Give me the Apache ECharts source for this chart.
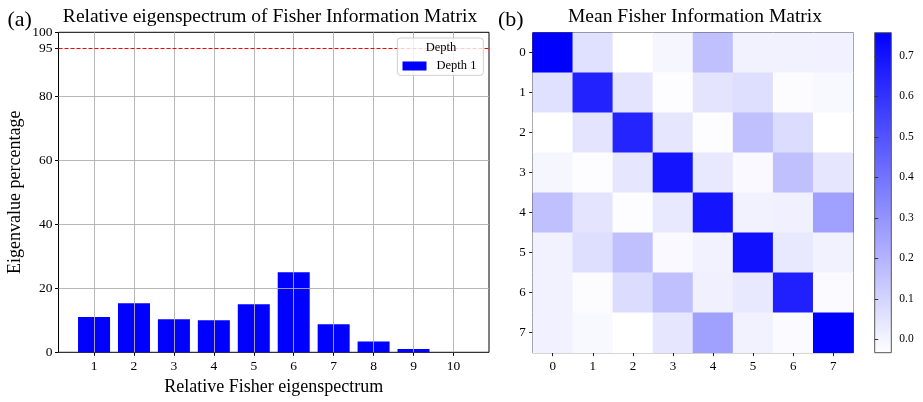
<!DOCTYPE html>
<html>
<head>
<meta charset="utf-8">
<script src="https://cdn.jsdelivr.net/npm/echarts@6/dist/echarts.min.js"></script>
<style>
html,body{margin:0;padding:0;background:#fff;}
#chart{width:923px;height:402px;}
</style>
</head>
<body>
<div id="chart"></div>
<script>
// ---- data ----
const eigenIndex = [1, 2, 3, 4, 5, 6, 7, 8, 9, 10];
const eigenPercent = [11.0, 15.3, 10.3, 10.0, 15.0, 25.0, 8.8, 3.4, 1.0, 0.0];
const yTickValues = [0, 20, 40, 60, 80, 95, 100];
const yGridValues = [20, 40, 60, 80];
const thresholdPercent = 95;
const seriesName = 'Depth 1';
const legendTitle = 'Depth';

const fimLabels = ['0', '1', '2', '3', '4', '5', '6', '7'];
const fimRow0 = [0.757, 0.064, -0.033, -0.005, 0.162, 0.007, 0.007, 0.010];
const fimRow1 = [0.064, 0.652, 0.051, -0.027, 0.051, 0.069, -0.024, -0.011];
const fimRow2 = [-0.033, 0.051, 0.646, 0.044, -0.027, 0.162, 0.075, -0.033];
const fimRow3 = [-0.005, -0.027, 0.044, 0.695, 0.038, -0.014, 0.162, 0.044];
const fimRow4 = [0.162, 0.051, -0.027, 0.038, 0.695, 0.007, 0.013, 0.261];
const fimRow5 = [0.007, 0.069, 0.162, -0.014, 0.007, 0.707, 0.038, 0.007];
const fimRow6 = [0.007, -0.024, 0.075, 0.162, 0.013, 0.038, 0.658, -0.020];
const fimRow7 = [0.010, -0.011, -0.033, 0.044, 0.261, 0.007, -0.020, 0.757];
const fimRows = [fimRow0, fimRow1, fimRow2, fimRow3, fimRow4, fimRow5, fimRow6, fimRow7];
const cbarMin = -0.033;
const cbarMax = 0.757;
const cbarTicks = [0.0, 0.1, 0.2, 0.3, 0.4, 0.5, 0.6, 0.7];

// ---- build ----
const FONT = 'Liberation Serif';
const barData = eigenIndex.map((x, i) => [x, eigenPercent[i]]);
const heatData = [];
fimRows.forEach((row, r) => row.forEach((v, c) => heatData.push([c, r, v])));

const gridLine = { color: '#b0b0b0', width: 0.9, type: 'solid' };
const markData = []
  .concat(eigenIndex.map(v => ({ xAxis: v, lineStyle: gridLine })))
  .concat(yGridValues.map(v => ({ yAxis: v, lineStyle: gridLine })))
  .concat([{ yAxis: thresholdPercent, lineStyle: { color: '#ff0000', width: 1, type: [4, 2] } }]);

const chart = echarts.init(document.getElementById('chart'), null, { renderer: 'canvas' });
const option = {
  animation: false,
  backgroundColor: '#fff',
  textStyle: { fontFamily: FONT, color: '#000' },
  grid: [
    { left: 58.5, top: 32.3, width: 430.5, height: 320, show: true, borderColor: '#000', borderWidth: 1, backgroundColor: 'transparent' },
    { left: 532.7, top: 32.7, width: 320.6, height: 320, show: true, borderColor: '#222', borderWidth: 1, backgroundColor: 'transparent' },
    { left: 874.7, top: 32.7, width: 16.6, height: 320, show: true, borderColor: '#555', borderWidth: 1,
      backgroundColor: new echarts.graphic.LinearGradient(0, 0, 0, 1, [{ offset: 0, color: '#0000ff' }, { offset: 1, color: '#ffffff' }]) }
  ],
  xAxis: [
    { type: 'value', gridIndex: 0, min: 0.11, max: 10.89,
      name: 'Relative Fisher eigenspectrum', nameLocation: 'middle', nameGap: 25,
      nameTextStyle: { fontFamily: FONT, fontSize: 18, color: '#000' },
      axisLine: { show: false }, splitLine: { show: false },
      axisTick: { show: true, customValues: eigenIndex, length: 3.5, lineStyle: { color: '#000' } },
      axisLabel: { customValues: eigenIndex, margin: 7, fontFamily: FONT, fontSize: 13.5, color: '#000' } },
    { type: 'category', gridIndex: 1, data: fimLabels,
      axisLine: { show: false }, splitLine: { show: false },
      axisTick: { show: true, alignWithLabel: true, length: 3.5, lineStyle: { color: '#222' } },
      axisLabel: { margin: 7, fontFamily: FONT, fontSize: 13, color: '#000' } },
    { type: 'value', gridIndex: 2, show: false, min: 0, max: 1 }
  ],
  yAxis: [
    { type: 'value', gridIndex: 0, min: 0, max: 100, interval: 20,
      name: 'Eigenvalue percentage', nameLocation: 'middle', nameGap: 34,
      nameTextStyle: { fontFamily: FONT, fontSize: 18, color: '#000' },
      axisLine: { show: false }, splitLine: { show: false },
      axisTick: { show: true, customValues: yTickValues, length: 3.5, lineStyle: { color: '#000' } },
      axisLabel: { customValues: yTickValues, margin: 6, fontFamily: FONT, fontSize: 13.5, color: '#000' } },
    { type: 'category', gridIndex: 1, data: fimLabels, inverse: true,
      axisLine: { show: false }, splitLine: { show: false },
      axisTick: { show: true, alignWithLabel: true, length: 3.5, lineStyle: { color: '#222' } },
      axisLabel: { margin: 7, fontFamily: FONT, fontSize: 13, color: '#000' } },
    { type: 'value', gridIndex: 2, min: cbarMin, max: cbarMax, position: 'right',
      axisLine: { show: false }, splitLine: { show: false },
      axisTick: { show: true, customValues: cbarTicks, length: 3.5, lineStyle: { color: '#333' } },
      axisLabel: { customValues: cbarTicks, margin: 8, fontFamily: FONT, fontSize: 11.5, color: '#000',
        formatter: v => Number(v).toFixed(1) } }
  ],
  visualMap: {
    show: false, type: 'continuous', seriesIndex: 1, dimension: 2,
    min: cbarMin, max: cbarMax, inRange: { color: ['#ffffff', '#0000ff'] }
  },
  legend: {
    show: true, data: [seriesName], left: 402.5, top: 59.5, padding: 0, itemGap: 0,
    itemWidth: 24, itemHeight: 9, icon: 'rect', selectedMode: false, z: 20,
    textStyle: { fontFamily: FONT, fontSize: 12.5, color: '#000', padding: [0, 0, 0, 5] }
  },
  graphic: [
    { type: 'text', x: 7.5, y: 20, z: 20, style: { text: '(a)', font: '22px "Liberation Serif"', fill: '#000', align: 'left', verticalAlign: 'middle' } },
    { type: 'text', x: 270, y: 17, z: 20, style: { text: 'Relative eigenspectrum of Fisher Information Matrix', font: '19.5px "Liberation Serif"', fill: '#000', align: 'center', verticalAlign: 'middle' } },
    { type: 'text', x: 498, y: 20, z: 20, style: { text: '(b)', font: '22px "Liberation Serif"', fill: '#000', align: 'left', verticalAlign: 'middle' } },
    { type: 'text', x: 695, y: 17, z: 20, style: { text: 'Mean Fisher Information Matrix', font: '19.5px "Liberation Serif"', fill: '#000', align: 'center', verticalAlign: 'middle' } },
    { type: 'rect', z: 15, shape: { x: 397.3, y: 38, width: 86, height: 37.3, r: 3 }, style: { fill: 'rgba(255,255,255,0.8)', stroke: '#d0d0d0', lineWidth: 1 } },
    { type: 'text', x: 441, y: 48, z: 20, style: { text: legendTitle, font: '12.5px "Liberation Serif"', fill: '#000', align: 'center', verticalAlign: 'middle' } }
  ],
  series: [
    { type: 'bar', name: seriesName, xAxisIndex: 0, yAxisIndex: 0, data: barData, barWidth: 32,
      itemStyle: { color: '#0000ff' },
      markLine: { silent: true, symbol: ['none', 'none'], label: { show: false }, animation: false, data: markData } },
    { type: 'heatmap', xAxisIndex: 1, yAxisIndex: 1, data: heatData, itemStyle: { borderWidth: 0 }, emphasis: { disabled: true } }
  ]
};
chart.setOption(option);
</script>
</body>
</html>
